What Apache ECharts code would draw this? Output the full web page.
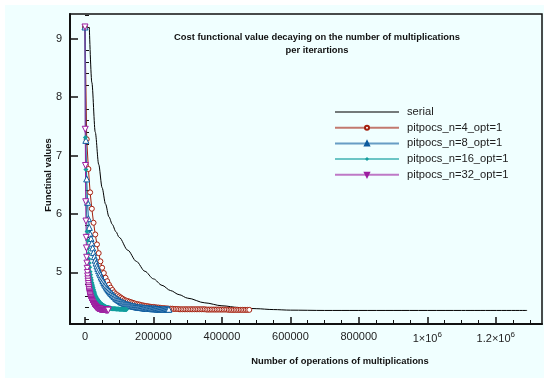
<!DOCTYPE html>
<html>
<head>
<meta charset="utf-8">
<script src="https://cdn.jsdelivr.net/npm/echarts@6/dist/echarts.min.js"></script>
<style>
  html, body { margin: 0; padding: 0; background: #fff; }
  #wrap { position: relative; width: 544px; height: 386px; }
  #bg { position: absolute; left: 5px; top: 5px; width: 539px; height: 373px; background: #f0ffff; }
  #chart { position: absolute; left: 0; top: 0; width: 544px; height: 386px; }
</style>
</head>
<body>
<div id="wrap"><div id="bg"></div><div id="chart"></div></div>
<script>
// tick positions / labels
const xMajorTicks = [0, 200000, 400000, 600000, 800000, 1000000, 1200000]
const xTickLabels = ['0', '200000', '400000', '600000', '800000', '1×10{s|6}', '1.2×10{s|6}']
const xMinorTicks = [50000, 100000, 150000, 250000, 300000, 350000, 450000, 500000, 550000, 650000, 700000, 750000,
  850000, 900000, 950000, 1050000, 1100000, 1150000, 1250000, 1300000]
const yMajorTicks = [5, 6, 7, 8, 9]
const yMinorTicks = [4.2, 4.4, 4.6, 4.8, 5.2, 5.4, 5.6, 5.8, 6.2, 6.4, 6.6, 6.8, 7.2, 7.4, 7.6, 7.8,
  8.2, 8.4, 8.6, 8.8, 9.2, 9.4]

// serial run: operations vs functional value
const serialOps = [12600, 20000, 30000, 40000, 50000, 60000, 70000, 80000, 90000, 100000, 125000, 150000, 175000,
  200000, 225000, 250000, 275000, 300000, 350000, 400000, 450000, 500000, 550000, 600000, 700000, 900000,
  1100000, 1291500]
const serialVals = [9.2, 8.25, 7.4, 6.85, 6.45, 6.17, 5.95, 5.82, 5.70, 5.60, 5.38, 5.19, 5.02,
  4.89, 4.78, 4.69, 4.62, 4.56, 4.48, 4.43, 4.40, 4.38, 4.365, 4.355, 4.35, 4.35,
  4.35, 4.35]

// pitpocs runs: multiplications per iteration and value at each iteration
const opsPerIter = { n4: 5000, n8: 2500, n16: 1250, n32: 700 }

const n4Vals = [
  9.2, 7.28, 6.77, 6.37, 6.09, 5.85, 5.65, 5.48, 5.33, 5.19,
  5.08, 4.99, 4.91, 4.85, 4.79, 4.74, 4.70, 4.66, 4.63, 4.61,
  4.59, 4.57, 4.55, 4.53, 4.52, 4.51, 4.50, 4.49, 4.48, 4.47,
  4.46, 4.455, 4.45, 4.44, 4.435, 4.43, 4.425, 4.42, 4.415, 4.41,
  4.41, 4.405, 4.40, 4.40, 4.395, 4.39, 4.39, 4.385, 4.385, 4.38,
  4.38, 4.38, 4.375, 4.375, 4.375, 4.37, 4.37, 4.37, 4.37, 4.37,
  4.37, 4.37, 4.37, 4.37, 4.37, 4.37, 4.37, 4.37, 4.37, 4.37,
  4.37, 4.365, 4.365, 4.365, 4.365, 4.365, 4.365, 4.365, 4.365, 4.365,
  4.365, 4.365, 4.365, 4.365, 4.36, 4.36, 4.36, 4.36, 4.36, 4.36,
  4.36, 4.36, 4.36, 4.36, 4.36, 4.36, 4.36
]
const n8Vals = [
  9.2, 7.26, 6.6, 6.2, 5.92, 5.77, 5.66, 5.58, 5.50, 5.42,
  5.34, 5.27, 5.21, 5.16, 5.11, 5.07, 5.03, 4.99, 4.96, 4.92,
  4.89, 4.86, 4.83, 4.80, 4.78, 4.75, 4.73, 4.71, 4.69, 4.67,
  4.65, 4.64, 4.62, 4.61, 4.59, 4.58, 4.56, 4.55, 4.54, 4.53,
  4.52, 4.51, 4.50, 4.49, 4.485, 4.48, 4.47, 4.465, 4.46, 4.455,
  4.45, 4.445, 4.44, 4.435, 4.43, 4.43, 4.425, 4.42, 4.42, 4.415,
  4.41, 4.41, 4.405, 4.405, 4.40, 4.40, 4.40, 4.395, 4.395, 4.395,
  4.39, 4.39, 4.39, 4.39, 4.385, 4.385, 4.385, 4.385, 4.38, 4.38,
  4.38, 4.38, 4.38, 4.38, 4.375, 4.375, 4.375, 4.375, 4.375, 4.37,
  4.37, 4.37, 4.37, 4.37, 4.37, 4.37, 4.37, 4.37, 4.37
]
const n16Vals = [
  9.2, 7.31, 6.76, 6.2, 5.9, 5.7, 5.55, 5.42, 5.32, 5.23,
  5.16, 5.09, 5.01, 4.96, 4.91, 4.87, 4.83, 4.80, 4.77, 4.74,
  4.71, 4.68, 4.66, 4.63, 4.61, 4.59, 4.58, 4.56, 4.55, 4.54,
  4.53, 4.52, 4.51, 4.50, 4.49, 4.48, 4.47, 4.465, 4.46, 4.455,
  4.45, 4.445, 4.44, 4.435, 4.43, 4.425, 4.42, 4.415, 4.41, 4.41,
  4.405, 4.405, 4.40, 4.40, 4.40, 4.395, 4.395, 4.39, 4.39, 4.39,
  4.385, 4.385, 4.385, 4.38, 4.38, 4.38, 4.38, 4.38, 4.38, 4.38,
  4.38, 4.38, 4.375, 4.375, 4.375, 4.375, 4.375, 4.375, 4.375, 4.375,
  4.37, 4.37, 4.37, 4.37, 4.37, 4.37, 4.37, 4.37, 4.37, 4.37,
  4.365, 4.365, 4.365, 4.365, 4.365, 4.365, 4.365, 4.365
]
const n32Vals = [
  9.2, 7.45, 6.83, 6.21, 5.88, 5.60, 5.42, 5.26, 5.16, 5.07,
  5.00, 4.94, 4.89, 4.85, 4.81, 4.77, 4.74, 4.71, 4.68, 4.66,
  4.64, 4.62, 4.60, 4.58, 4.57, 4.55, 4.54, 4.53, 4.52, 4.51,
  4.50, 4.49, 4.48, 4.47, 4.465, 4.46, 4.455, 4.45, 4.445, 4.44,
  4.435, 4.43, 4.425, 4.42, 4.415, 4.41, 4.405, 4.40, 4.40, 4.395,
  4.39, 4.39, 4.385, 4.385, 4.38, 4.38, 4.38, 4.375, 4.375, 4.375,
  4.375, 4.37, 4.37, 4.37, 4.37, 4.37, 4.37, 4.365, 4.365, 4.365,
  4.365, 4.365, 4.365, 4.36, 4.36, 4.36, 4.36, 4.36, 4.36, 4.36,
  4.36, 4.36, 4.36, 4.36, 4.36, 4.36, 4.355, 4.355, 4.355, 4.355,
  4.355, 4.355, 4.355, 4.355, 4.355, 4.355, 4.355, 4.355
]

const FONT = 'Liberation Sans, Arial, sans-serif'
const toPairs = (vals, step) => vals.map((v, i) => [i * step, v])

const RED = '#a3200e'
const BLUE = '#0c5b9e'
const TEAL = '#139e9e'
const PURPLE = '#9c1ea0'

const xMin = -43800
const xMax = 1335000
const yMin = 4.118
const yMax = 9.422

const chart = echarts.init(document.getElementById('chart'), null, { renderer: 'canvas' })

const legendLine = c => ({ color: c, width: 2, opacity: 0.6 })

const option = {
  animation: false,
  grid: {
    left: 70, right: 2, top: 14, bottom: 62,
    show: true, borderColor: '#111', borderWidth: 1.5
  },
  xAxis: [
    {
      type: 'value', min: xMin, max: xMax,
      splitLine: { show: false },
      axisLine: { show: true, onZero: false, lineStyle: { color: '#111', width: 2 } },
      axisTick: { show: true, inside: true, length: 7, customValues: xMajorTicks, lineStyle: { color: '#111', width: 1.5 } },
      axisLabel: {
        customValues: xMajorTicks,
        margin: 7,
        fontFamily: FONT, fontSize: 11, color: '#222',
        formatter: v => xTickLabels[xMajorTicks.indexOf(v)],
        rich: {
          s: { fontFamily: FONT, fontSize: 8, color: '#222', verticalAlign: 'top', lineHeight: 15 }
        }
      }
    },
    {
      // minor ticks only
      type: 'value', min: xMin, max: xMax, position: 'bottom',
      splitLine: { show: false },
      axisLine: { show: false },
      axisLabel: { show: false },
      axisTick: { show: true, inside: true, length: 4, customValues: xMinorTicks, lineStyle: { color: '#111', width: 1 } }
    }
  ],
  yAxis: [
    {
      type: 'value', min: yMin, max: yMax,
      splitLine: { show: false },
      axisLine: { show: true, onZero: false, lineStyle: { color: '#111', width: 2 } },
      axisTick: { show: true, inside: true, length: 8, customValues: yMajorTicks, lineStyle: { color: '#111', width: 1.5 } },
      axisLabel: { customValues: yMajorTicks, margin: 8, fontFamily: FONT, fontSize: 11, color: '#222' }
    },
    {
      type: 'value', min: yMin, max: yMax, position: 'left',
      splitLine: { show: false },
      axisLine: { show: false },
      axisLabel: { show: false },
      axisTick: { show: true, inside: true, length: 4, customValues: yMinorTicks, lineStyle: { color: '#111', width: 1 } }
    }
  ],
  legend: {
    orient: 'vertical',
    left: 334, top: 105,
    padding: 0,
    itemWidth: 64, itemHeight: 5, itemGap: 1.7,
    textStyle: { fontFamily: FONT, fontSize: 11.2, lineHeight: 14, color: '#222', padding: [0, 0, 0, 3] },
    data: [
      { name: 'serial', itemStyle: { opacity: 0 }, lineStyle: legendLine('#222') },
      { name: 'pitpocs_n=4_opt=1', lineStyle: legendLine(RED) },
      { name: 'pitpocs_n=8_opt=1', itemStyle: { color: BLUE }, lineStyle: legendLine(BLUE) },
      { name: 'pitpocs_n=16_opt=1', lineStyle: legendLine(TEAL) },
      { name: 'pitpocs_n=32_opt=1', itemStyle: { color: PURPLE }, lineStyle: legendLine(PURPLE) }
    ]
  },
  graphic: [
    {
      type: 'text', x: 317, y: 44,
      style: {
        text: 'Cost functional value decaying on the number of multiplications\nper iterartions',
        font: 'bold 9.4px ' + FONT, fill: '#111', lineHeight: 12.5,
        align: 'center', verticalAlign: 'middle', textAlign: 'center', textVerticalAlign: 'middle'
      }
    },
    {
      type: 'text', x: 48, y: 175, rotation: Math.PI / 2,
      style: {
        text: 'Functinal values', font: 'bold 9.4px ' + FONT, fill: '#111',
        align: 'center', verticalAlign: 'middle', textAlign: 'center', textVerticalAlign: 'middle'
      }
    },
    {
      type: 'text', x: 340, y: 361,
      style: {
        text: 'Number of operations of multiplications', font: 'bold 9.4px ' + FONT, fill: '#111',
        align: 'center', verticalAlign: 'middle', textAlign: 'center', textVerticalAlign: 'middle'
      }
    }
  ],
  series: [
    {
      name: 'serial', type: 'line', symbol: 'none',
      smooth: 0.3, smoothMonotone: 'x',
      lineStyle: { color: '#000', width: 1 },
      itemStyle: { color: '#000' },
      data: serialOps.map((x, i) => [x, serialVals[i]])
    },
    {
      name: 'pitpocs_n=4_opt=1', type: 'line',
      symbol: 'circle', symbolSize: 5, showAllSymbol: true,
      lineStyle: { color: RED, width: 1 },
      itemStyle: { color: '#fff', borderColor: RED, borderWidth: 1 },
      data: toPairs(n4Vals, opsPerIter.n4)
    },
    {
      name: 'pitpocs_n=8_opt=1', type: 'line',
      symbol: 'triangle', symbolSize: 6, showAllSymbol: true,
      lineStyle: { color: BLUE, width: 1 },
      itemStyle: { color: '#fff', borderColor: BLUE, borderWidth: 1 },
      data: toPairs(n8Vals, opsPerIter.n8)
    },
    {
      name: 'pitpocs_n=16_opt=1', type: 'line',
      symbol: 'diamond', symbolSize: 5, showAllSymbol: true,
      lineStyle: { color: TEAL, width: 1 },
      itemStyle: { color: TEAL },
      data: toPairs(n16Vals, opsPerIter.n16)
    },
    {
      name: 'pitpocs_n=32_opt=1', type: 'line',
      symbol: 'triangle', symbolRotate: 180, symbolSize: 6, showAllSymbol: true,
      lineStyle: { color: PURPLE, width: 1 },
      itemStyle: { color: '#fff', borderColor: PURPLE, borderWidth: 1 },
      data: toPairs(n32Vals, opsPerIter.n32)
    }
  ]
}

chart.setOption(option)
</script>
</body>
</html>
